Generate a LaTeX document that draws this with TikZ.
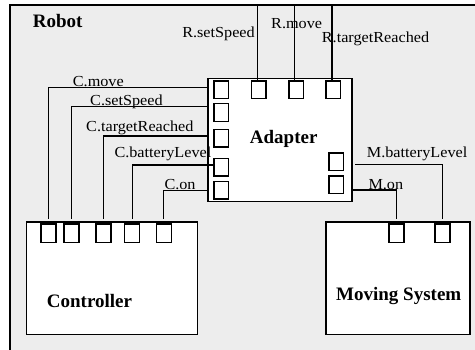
\documentclass[tikz,border=0pt]{standalone}
\usepackage{fontspec}
\setmainfont{Liberation Serif}
\newfontfamily\lblfont[FakeStretch=1.06]{Liberation Serif}
\definecolor{bg}{RGB}{237,237,237}
\begin{document}
\begin{tikzpicture}[x=1pt,y=-1pt,
 box/.style={draw, fill=white, line width=1.2pt, inner sep=0pt, outer sep=0pt},
 port/.style={draw, fill=white, inner sep=0pt, outer sep=0pt, minimum width=14.5pt, minimum height=17.5pt, line width=1.2pt},
 cport/.style={port, minimum width=15pt, minimum height=18.7pt},
 lbl/.style={font=\lblfont\fontsize{15.3}{17}\selectfont, inner sep=0pt, anchor=base west},
 ttl/.style={font=\bfseries\fontsize{19}{21}\selectfont, inner sep=0pt},
 wire/.style={draw, line width=1.2pt}]
\useasboundingbox (0,0) rectangle (475,350);
\clip (0,0) rectangle (475,350);
\fill[white] (0,0) rectangle (475,350);
\draw[fill=bg, line width=1.2pt] (10,5) rectangle (490,370);
\node[ttl, anchor=base west] (robot) at (32.7,28) {Robot};

% components
\node[box, minimum width=144pt, minimum height=123.4pt] (ad) at (280,140) {};
\node[box, minimum width=170.6pt, minimum height=112.3pt] (ct) at (112,278.2) {};
\node[box, minimum width=144pt, minimum height=112.3pt] (ms) at (398,278.2) {};
\node[ttl, anchor=base] (adl) at (283.7,143.3) {Adapter};
\node[ttl, anchor=base west] (ctl) at (46.7,307.3) {Controller};
\node[ttl, anchor=base west] (msl) at (336,300.7) {Moving System};

% adapter ports
\node[port] (al1) at (221.3,89.7) {};
\node[port] (al2) at (221.3,112.5) {};
\node[port] (al3) at (221.3,138.3) {};
\node[port] (al4) at (221.3,167.2) {};
\node[port] (al5) at (221.3,190.2) {};
\node[port] (at1) at (258.8,89.7) {};
\node[port] (at2) at (296.2,89.7) {};
\node[port] (at3) at (333.2,89.7) {};
\node[port] (ar1) at (336.3,161.7) {};
\node[port] (ar2) at (336.3,184.7) {};
% controller ports
\node[cport] (cp1) at (48.5,233.3) {};
\node[cport] (cp2) at (71.5,233.3) {};
\node[cport] (cp3) at (103.5,233.3) {};
\node[cport] (cp4) at (132.2,233.3) {};
\node[cport] (cp5) at (163.8,233.3) {};
% moving system ports
\node[cport] (mp1) at (396.5,233.3) {};
\node[cport] (mp2) at (442.5,233.3) {};

% top connectors
\coordinate (rt1) at (257.3,5);
\coordinate (rt2) at (294.7,5);
\coordinate (rt3) at (332,5);
\draw[wire] (rt1) -- (rt1 |- at1.north);
\draw[wire] (rt2) -- (rt2 |- at2.north);
\draw[wire] (rt3) -- (rt3 |- at3.north);

% controller connectors
\draw[wire] ([yshift=5pt]cp1.north) |- (ad.west |- 0,87.7);
\draw[wire] ([yshift=5pt]cp2.north) |- (ad.west |- 0,106.7);
\draw[wire] ([yshift=5pt]cp3.north) |- (ad.west |- 0,136);
\draw[wire] ([yshift=5pt]cp4.north) |- (al4.west |- 0,165);
\draw[wire] ([yshift=5pt]cp5.north) |- (ad.west |- 0,190.7);

% moving system connectors
\draw[wire] ([yshift=5pt]mp2.north) |- ([xshift=3pt]ad.east |- 0,164.7);
\draw[wire] ([yshift=5pt]mp1.north) |- (ad.east |- 0,190);

% labels
\node[lbl, anchor=base east] (l1) at (255,37.3) {R.setSpeed};
\node[lbl] (l2) at (271,28.3) {R.move};
\node[lbl] (l3) at (321.7,42.3) {R.targetReached};
\node[lbl] (l4) at (72.7,86.5) {C.move};
\node[lbl] (l5) at (90,105.3) {C.setSpeed};
\node[lbl] (l6) at (86,131.7) {C.targetReached};
\node[lbl] (l7) at (114.3,157.3) {C.batteryLevel};
\node[lbl] (l8) at (164.3,189.3) {C.on};
\node[lbl] (l9) at (366.7,157.3) {M.batteryLevel};
\node[lbl] (l10) at (368.3,189.3) {M.on};
\end{tikzpicture}
\end{document}
